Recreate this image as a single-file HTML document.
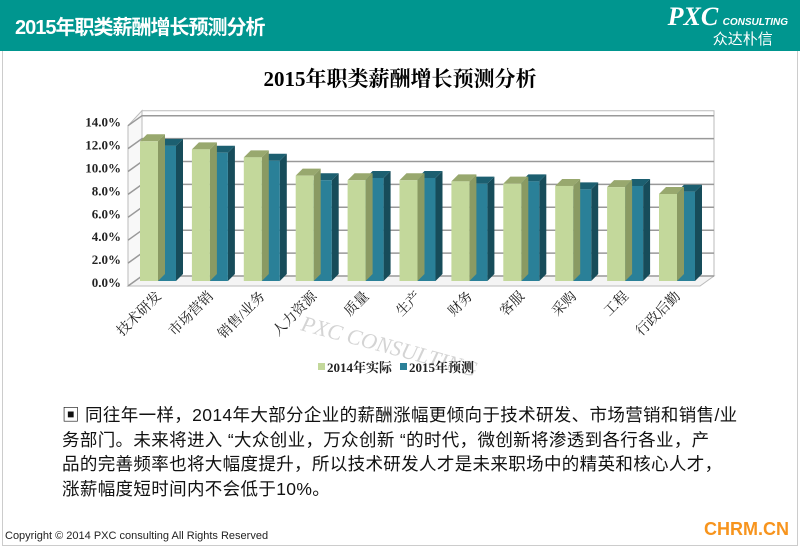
<!DOCTYPE html>
<html><head><meta charset="utf-8">
<style>
body{margin:0;width:800px;height:547px;overflow:hidden;background:#fff;font-family:"Liberation Sans","Noto Sans CJK SC",sans-serif;position:relative}
#hdr{position:absolute;left:0;top:0;width:800px;height:51px;background:#00968f}
#hdr .t{position:absolute;left:15px;top:11px;color:#fff;font-size:20px;font-weight:bold;letter-spacing:-1px}
#logo{position:absolute;right:12px;top:2px;color:#fff;text-align:center}
#panel{position:absolute;left:2px;top:51px;width:794px;height:494px;border:1px solid #ccc;border-top:none}
#para{position:absolute;left:62px;top:403px;font-size:17.5px;line-height:24.5px;color:#111;white-space:nowrap;letter-spacing:0.35px}
#copy{position:absolute;left:5px;top:530px;font-size:11px;color:#222}
#chrm{position:absolute;left:704px;top:519px;font-size:18px;font-weight:bold;color:#f7941d}
</style></head><body>
<div id="hdr"><div class="t">2015年职类薪酬增长预测分析</div>
<div id="logo"><span style="font-family:'Liberation Serif',serif;font-style:italic;font-weight:bold;font-size:26px">PXC</span> <span style="font-size:10px;font-style:italic;font-weight:bold">CONSULTING</span><div style="font-size:15px;margin-top:-4px;margin-left:30px">众达朴信</div></div></div>
<div id="panel"></div>
<svg id="chart" width="800" height="400" style="position:absolute;left:0;top:0">
<text x="400" y="86" text-anchor="middle" font-family="'Liberation Serif','Noto Serif CJK SC',serif" font-size="21" font-weight="bold">2015年职类薪酬增长预测分析</text>
<g id="g"></g>
</svg>
<div id="para">&#9635; 同往年一样，2014年大部分企业的薪酬涨幅更倾向于技术研发、市场营销和销售/业<br>务部门。未来将进入 “大众创业，万众创新 “的时代，微创新将渗透到各行各业，产<br>品的完善频率也将大幅度提升，所以技术研发人才是未来职场中的精英和核心人才，<br>涨薪幅度短时间内不会低于10%。</div>
<div id="copy">Copyright © 2014 PXC consulting All Rights Reserved</div>
<div id="chrm">CHRM.CN</div>
<script>
const categories=["技术研发","市场营销","销售/业务","人力资源","质量","生产","财务","客服","采购","工程","行政后勤"];
const actual2014=[12.2,11.5,10.8,9.2,8.8,8.8,8.7,8.5,8.3,8.2,7.6];
const forecast2015=[11.8,11.2,10.5,8.8,9.0,9.0,8.5,8.7,8.0,8.3,7.8];
const yTicks=[0,2,4,6,8,10,12,14];
const NS="http://www.w3.org/2000/svg";
const g=document.getElementById('g');
const y0=281,ppu=11.45,dx=7,dy=7,x0=140,step=51.9,bw=18;
const yS=v=>y0-v*ppu;
function mk(t,a){const e=document.createElementNS(NS,t);for(const k in a)e.setAttribute(k,a[k]);g.appendChild(e);return e;}
let w=mk('polygon',{points:`${128+dx*2},${yS(14)-dy-3} 714,${yS(14)-dy-3} 714,${y0-5} ${128+dx*2},${y0-5}`,fill:'#fff',stroke:'#bbb'});

let f=mk('polygon',{points:`128,${y0+5} 700,${y0+5} 714,${y0-5} ${128+dx*2},${y0-5}`,fill:'#f4f4f4',stroke:'#bbb'});

let lw=mk('polygon',{points:`128,${y0+5} ${128+dx*2},${y0-5} ${128+dx*2},${yS(14)-dy-3} 128,${yS(14)+5}`,fill:'#f8f8f8',stroke:'#bbb'});

yTicks.forEach(v=>{
 const yy=yS(v)-5;
 const l=mk('polyline',{points:`128,${yy+10} ${128+dx*2},${yy} 714,${yy}`,fill:'none',stroke:'#999','stroke-width':1.5});
 
 const t=mk('text',{x:121,y:yS(v)+6,'text-anchor':'end','font-size':13,'font-weight':'bold','font-family':"'Liberation Serif',serif",fill:'#222'});
 t.textContent=v.toFixed(1)+'%';
 
});
function bar(x,v,front,top,side,name){
 const yt=yS(v);
 const s=mk('polygon',{points:`${x+bw},${y0} ${x+bw+dx},${y0-dy} ${x+bw+dx},${yt-dy} ${x+bw},${yt}`,fill:side});
 
 const tp=mk('polygon',{points:`${x},${yt} ${x+dx},${yt-dy} ${x+bw+dx},${yt-dy} ${x+bw},${yt}`,fill:top});
 
 const r=mk('rect',{x:x,y:yt,width:bw,height:y0-yt,fill:front});
 
}
categories.forEach((c,i)=>{
 const x=x0+i*step;
 bar(x+bw,forecast2015[i],'#2a8098','#1c5f70','#174c5a','bar-2015');
 bar(x,actual2014[i],'#c3d89b','#98a86e','#8a9a63','bar-2014');
 const t=mk('text',{transform:`translate(${x+bw+4},${y0+16}) rotate(-45)`,'text-anchor':'end','font-size':14,'font-family':"'Liberation Serif','Noto Serif CJK SC',serif",fill:'#222'});
 t.textContent=c;
 
});
const wm=mk('text',{transform:'translate(300,330) rotate(15)','font-size':22,'font-style':'italic','font-family':"'Liberation Serif',serif",fill:'#aaa','fill-opacity':0.5});
wm.textContent='PXC CONSULTING';

[[318,'#c3d89b','2014年实际'],[400,'#2a8098','2015年预测']].forEach(([x,c,l])=>{
 const r=mk('rect',{x:x,y:363,width:7,height:7,fill:c});
 
 const t=mk('text',{x:x+9,y:372,'font-size':13,'font-weight':'bold','font-family':"'Liberation Serif','Noto Serif CJK SC',serif",fill:'#222'});
 t.textContent=l;
 
});
</script>
</body></html>
